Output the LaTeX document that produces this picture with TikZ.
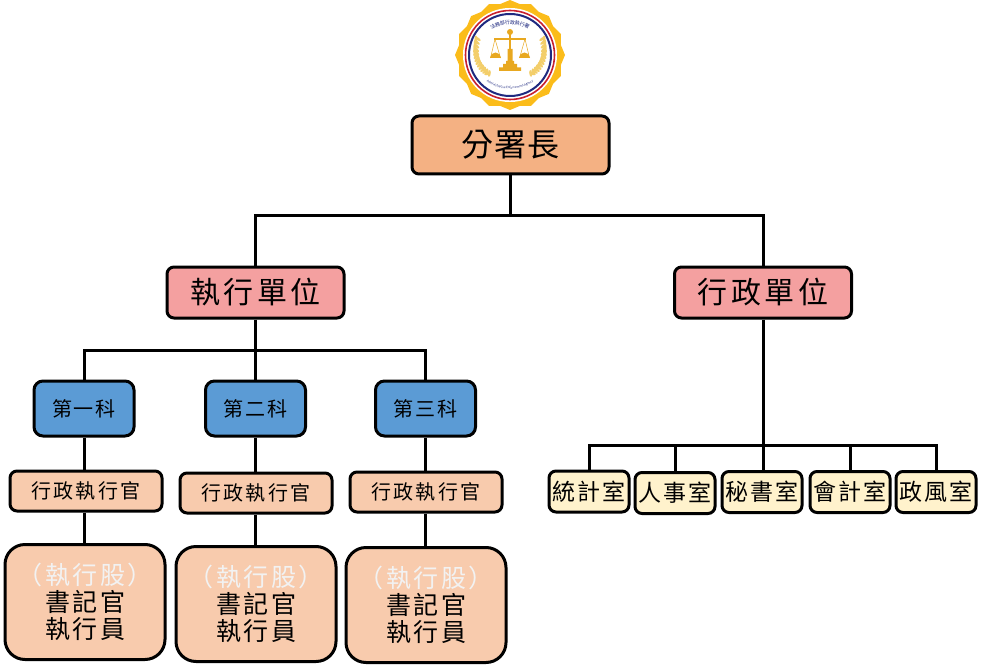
\documentclass[tikz,border=0pt]{standalone}
\usepackage{fontspec}
\setmainfont{Noto Sans CJK TC}
\usetikzlibrary{decorations.text}
\definecolor{cTop}{HTML}{F4B183}
\definecolor{cUnit}{HTML}{F4A0A0}
\definecolor{cDept}{HTML}{5B9BD5}
\definecolor{cPeach}{HTML}{F8CBAD}
\definecolor{cCream}{HTML}{FFF2CC}
\definecolor{cGold}{HTML}{FBBC1A}
\definecolor{cRed}{HTML}{C8202F}
\definecolor{cBlue}{HTML}{1F2A80}
\definecolor{cWheat}{HTML}{F3CE6A}
\definecolor{cScale}{HTML}{E8A820}
\newcommand{\sized}[3]{\fontsize{#1}{#2}\selectfont\addfontfeature{LetterSpace=#3}}
\tikzset{
  x=1pt,y=-1pt,
  box/.style={draw=black,line width=3pt,rounded corners=#1,inner sep=0pt,align=center,text=black},
  box/.default=7pt,
  topbox/.style={box=7pt,fill=cTop,minimum width=197pt,minimum height=58pt,font=\sized{32}{36}{3}},
  unitbox/.style={box=7pt,fill=cUnit,minimum width=177pt,minimum height=51pt,font=\sized{30}{32}{12}},
  deptbox/.style={box=9pt,fill=cDept,minimum width=100pt,minimum height=55pt,font=\sized{20}{22}{8}},
  officerbox/.style={box=7pt,fill=cPeach,minimum width=152pt,minimum height=40pt,font=\sized{20}{22}{12}},
  sectbox/.style={box=20pt,fill=cPeach,minimum width=160pt,minimum height=115pt,font=\sized{25}{29}{10}},
  roombox/.style={box=7pt,fill=cCream,minimum width=80pt,minimum height=41pt,font=\sized{23}{27}{7}},
  link/.style={draw=black,line width=3pt}
}
\newcommand{\sectlabel}{{\color{white!90!gray}（執行股）}\\[-2pt]書記官\\[-2pt]執行員}
\begin{document}
\begin{tikzpicture}
\useasboundingbox (0,0) rectangle (981,668);
% logo
\begin{scope}[shift={(510,55)}]
  \fill[cGold] (0:55)
    \foreach \a in {1,...,31}{ -- ({\a*11.25}:{55-3.2*mod(\a,2)}) } -- cycle;
  \fill[white] (0,0) circle (47);
  \draw[cRed,line width=1.6pt] (0,0) circle (44.5);
  \draw[cBlue,line width=2pt] (0,0) circle (41);
  % scale
  \draw[cScale,line width=1.4pt] (0,-22) -- (0,8);
  \fill[cScale] (0,-23) circle (3);
  \draw[cScale,line width=1.2pt] (-16,-16) -- (16,-16);
  \draw[cScale,line width=.5pt] (-15,-16) -- (-19.5,3) (-15,-16) -- (-9.5,3) (15,-16) -- (19.5,3) (15,-16) -- (9.5,3);
  \fill[cScale] (-20,3) arc (180:360:5.5) -- cycle (9,3) arc (180:360:5.5) -- cycle;
  \fill[cScale] (-2.5,-6) rectangle (2.5,6) (-4,6) rectangle (4,9) (-7,9) rectangle (7,12.5) (-11,12.5) rectangle (11,16);
  % wheat
  \foreach \s in {-1,1}{
    \begin{scope}[xscale=\s]
      \foreach \i in {0,...,12}{
        \pgfmathsetmacro{\r}{37.6-0.85*\i}
        \pgfmathsetmacro{\ang}{208-5.5*\i}
        \fill[cWheat,rotate around={\ang-60:(\ang:\r)}] ({\ang}:{\r+1.8}) ellipse (3.4 and 1.4);
        \fill[cWheat,rotate around={\ang+60:(\ang:\r)}] ({\ang}:{\r-1.8}) ellipse (3.4 and 1.4);
      }
    \end{scope}
  }
  % ring text
  \path[decorate,decoration={text along path,text align=center,text={|\fontsize{5}{5}\selectfont\color{cBlue}|法務部行政執行署},raise=-1.5pt}]
    (-25,-21) .. controls (-14,-36) and (14,-36) .. (25,-21);
  \path[decorate,decoration={text along path,text align=center,text={|\fontsize{3}{3}\selectfont\color{cBlue}|Administrative Enforcement Agency}}]
    (-27,22) .. controls (-16,38) and (16,38) .. (27,22);
\end{scope}
% nodes
\node[topbox] (chief) at (510.5,145) {分署長};
\node[unitbox] (exec) at (255.5,292.5) {執行單位};
\node[unitbox] (admin) at (763,292.5) {行政單位};
\node[deptbox] (d1) at (84,408.5) {第一科};
\node[deptbox] (d2) at (255.5,408.5) {第二科};
\node[deptbox] (d3) at (425.5,408.5) {第三科};
\node[officerbox] (o1) at (86,491) {行政執行官};
\node[officerbox] (o2) at (256,493) {行政執行官};
\node[officerbox] (o3) at (426,492) {行政執行官};
\node[sectbox] (s1) at (85,602) {\sectlabel};
\node[sectbox] (s2) at (256,604) {\sectlabel};
\node[sectbox] (s3) at (426,605) {\sectlabel};
\node[roombox] (r1) at (589,491.5) {統計室};
\node[roombox] (r2) at (675,493) {人事室};
\node[roombox] (r3) at (762,492) {秘書室};
\node[roombox] (r4) at (850,492) {會計室};
\node[roombox] (r5) at (936,492) {政風室};
% junctions
\coordinate (jtop) at (510.5,216);
\coordinate (jexec) at (255.5,350);
\coordinate (jadmin) at (763,445);
% connectors
\draw[link] (chief.south) -- (jtop);
\draw[link] (exec.north) |- (jtop) -| (admin.north);
\draw[link] (exec.south) -- (jexec);
\draw[link] (d1.north) |- (jexec) -| (d3.north);
\draw[link] (jexec) -- (d2.north);
\foreach \n in {1,2,3}{
  \draw[link] (d\n.south) -- (d\n.south |- o\n.north);
  \draw[link] (d\n.south |- o\n.south) -- (d\n.south |- s\n.north);
}
\draw[link] (admin.south) -- (jadmin);
\draw[link] (r1.north) |- (jadmin) -| (r5.north);
\draw[link] (r2.north) -- (r2.north |- jadmin);
\draw[link] (jadmin) -- (jadmin |- r3.north);
\draw[link] (r4.north) -- (r4.north |- jadmin);
\end{tikzpicture}
\end{document}
